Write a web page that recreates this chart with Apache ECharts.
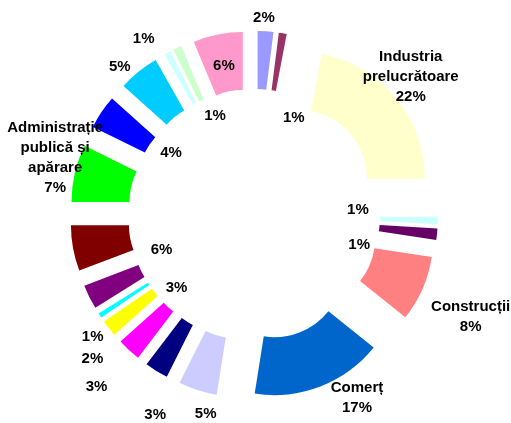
<!DOCTYPE html>
<html>
<head>
<meta charset="utf-8">
<script src="https://cdn.jsdelivr.net/npm/echarts@6/dist/echarts.min.js"></script>
<style>
  html, body { margin: 0; padding: 0; background: #fff; }
  #chart { width: 511px; height: 423px; }
</style>
</head>
<body>
<div id="chart"></div>
<script>
// slices, clockwise from 12 o'clock
const sectors = [
  "", "", "Industria\nprelucrătoare", "", "", "Construcții", "Comerț",
  "", "", "", "", "", "", "", "Administrație\npublică și\napărare",
  "", "", "", "", ""
];
const shares = [
  2, 1, 22, 0.95, 1.45, 8.35, 16.75,
  4.9, 3, 3, 2.1, 0.6, 3.1, 5.8, 7.3,
  4.3, 5.2, 0.8, 1.1, 6.3
];
const colors = [
  "#9999ff", "#993366", "#ffffcc", "#ccffff", "#660066", "#ff8080", "#0066cc",
  "#ccccff", "#000080", "#ff00ff", "#ffff00", "#00ffff", "#800080", "#800000", "#00ff00",
  "#0000ff", "#00ccff", "#ccffff", "#ccffcc", "#ff99cc"
];

// where each label sits relative to the middle of its slice
const labelNudge = [
  [0, -39], [15, 59], [35, -37], [-54, -10], [-52, 13], [72, 38], [46, 36],
  [0, 48], [-15, 66], [-50, 56], [-37, 47], [-29, 36], [64, 2], [63, 6], [-45, -21],
  [48, 26], [-35, -25], [-36, -37], [27, 44], [1, 6]
];

const chart = echarts.init(document.getElementById("chart"), null, { renderer: "canvas" });

chart.setOption({
  animation: false,
  backgroundColor: "#fff",
  series: [
    {
      type: "pie",
      center: [254, 215],
      radius: [69, 127],
      startAngle: 90,
      clockwise: true,
      selectedMode: "multiple",
      selectedOffset: 57,
      avoidLabelOverlap: false,
      itemStyle: { borderWidth: 0 },
      emphasis: { disabled: true },
      select: { itemStyle: { borderWidth: 0 } },
      label: {
        position: "inside",
        color: "#000",
        fontFamily: "Liberation Sans, Arial, sans-serif",
        fontWeight: "bold",
        fontSize: 15,
        lineHeight: 20,
        formatter: p => (p.name ? p.name + "\n" : "") + Math.round(p.value) + "%"
      },
      labelLine: { show: false },
      labelLayout: p => ({ dx: labelNudge[p.dataIndex][0], dy: labelNudge[p.dataIndex][1] }),
      data: shares.map((v, i) => ({
        name: sectors[i],
        value: v,
        selected: true,
        itemStyle: { color: colors[i] }
      }))
    }
  ]
});
</script>
</body>
</html>
